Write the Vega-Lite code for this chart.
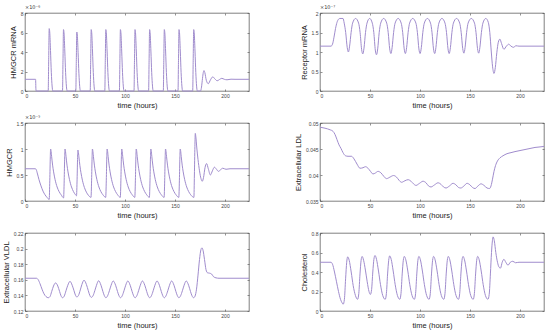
{
"$schema": "https://vega.github.io/schema/vega-lite/v6.json",
"background": "white",
"padding": {"left": 1, "top": 4, "right": 2, "bottom": 2},
"datasets": {
"mrna": [{"t":0,"v":1.2},{"t":10.6,"v":1.2},{"t":10.9,"v":0.2},{"t":11.2,"v":0},
{"t":23.2,"v":0},{"t":23.7,"v":3.2},{"t":24.2,"v":6.4},{"t":24.7,"v":6.08},{"t":25.5,"v":4.16},{"t":26.3,"v":1.92},{"t":27.1,"v":0.51},{"t":27.8,"v":0},
{"t":37.5,"v":0},{"t":38,"v":3.15},{"t":38.5,"v":6.3},{"t":39,"v":5.99},{"t":39.8,"v":4.1},{"t":40.6,"v":1.89},{"t":41.4,"v":0.5},{"t":42.1,"v":0},
{"t":50.8,"v":0},{"t":51.3,"v":3.03},{"t":51.8,"v":6.05},{"t":52.3,"v":5.75},{"t":53.1,"v":3.93},{"t":53.9,"v":1.82},{"t":54.7,"v":0.48},{"t":55.4,"v":0},
{"t":65.2,"v":0},{"t":65.7,"v":3.15},{"t":66.2,"v":6.3},{"t":66.7,"v":5.99},{"t":67.5,"v":4.1},{"t":68.3,"v":1.89},{"t":69.1,"v":0.5},{"t":69.8,"v":0},
{"t":79.8,"v":0},{"t":80.3,"v":3.15},{"t":80.8,"v":6.3},{"t":81.3,"v":5.99},{"t":82.1,"v":4.1},{"t":82.9,"v":1.89},{"t":83.7,"v":0.5},{"t":84.4,"v":0},
{"t":94.4,"v":0},{"t":94.9,"v":3.15},{"t":95.4,"v":6.3},{"t":95.9,"v":5.99},{"t":96.7,"v":4.1},{"t":97.5,"v":1.89},{"t":98.3,"v":0.5},{"t":99,"v":0},
{"t":109,"v":0},{"t":109.5,"v":3.15},{"t":110,"v":6.3},{"t":110.5,"v":5.99},{"t":111.3,"v":4.1},{"t":112.1,"v":1.89},{"t":112.9,"v":0.5},{"t":113.6,"v":0},
{"t":123.6,"v":0},{"t":124.1,"v":3.15},{"t":124.6,"v":6.3},{"t":125.1,"v":5.99},{"t":125.9,"v":4.1},{"t":126.7,"v":1.89},{"t":127.5,"v":0.5},{"t":128.2,"v":0},
{"t":138.3,"v":0},{"t":138.8,"v":3.15},{"t":139.3,"v":6.3},{"t":139.8,"v":5.99},{"t":140.6,"v":4.1},{"t":141.4,"v":1.89},{"t":142.2,"v":0.5},{"t":142.9,"v":0},
{"t":153,"v":0},{"t":153.5,"v":3.15},{"t":154,"v":6.3},{"t":154.5,"v":5.99},{"t":155.3,"v":4.1},{"t":156.1,"v":1.89},{"t":156.9,"v":0.5},{"t":157.6,"v":0},
{"t":167.7,"v":0},{"t":168.2,"v":3.15},{"t":168.7,"v":6.3},{"t":169.2,"v":5.99},{"t":170,"v":4.1},{"t":170.8,"v":1.89},{"t":171.6,"v":0.5},{"t":172.3,"v":0},
{"t":175.5,"v":0},{"t":176.5,"v":0.4},{"t":177.5,"v":1.3},{"t":178.3,"v":1.9},{"t":179,"v":2.1},{"t":179.8,"v":1.9},{"t":181.3,"v":1.1},{"t":183.3,"v":0.75},{"t":185.5,"v":1.15},{"t":187.8,"v":1.45},{"t":189.8,"v":1.25},{"t":192.2,"v":1.05},{"t":194.5,"v":1.18},{"t":196.8,"v":1.3},{"t":199.3,"v":1.2},{"t":202,"v":1.15},{"t":206,"v":1.21},{"t":210,"v":1.2},{"t":224,"v":1.2}],
"receptor": [{"t":0,"v":1.15},{"t":11,"v":1.15},{"t":12.5,"v":1.2},{"t":14,"v":1.38},{"t":15.5,"v":1.6},{"t":17,"v":1.76},{"t":18.5,"v":1.84},{"t":20,"v":1.86},{"t":23,"v":1.86},{"t":24.2,"v":1.74},{"t":25.7,"v":1.5},{"t":27.2,"v":1.12},{"t":28.4,"v":1.0},
{"t":29.6,"v":1.15},{"t":31.1,"v":1.5},{"t":32.6,"v":1.74},{"t":35.6,"v":1.86},{"t":38.6,"v":1.74},{"t":40.1,"v":1.5},{"t":41.6,"v":1.07},{"t":42.8,"v":0.95},
{"t":44,"v":1.1},{"t":45.5,"v":1.5},{"t":47,"v":1.74},{"t":49.65,"v":1.86},{"t":52.3,"v":1.74},{"t":53.8,"v":1.5},{"t":55.3,"v":1.05},{"t":56.5,"v":0.93},
{"t":57.7,"v":1.08},{"t":59.2,"v":1.5},{"t":60.7,"v":1.74},{"t":63.7,"v":1.86},{"t":66.7,"v":1.74},{"t":68.2,"v":1.5},{"t":69.7,"v":1.08},{"t":70.9,"v":0.96},
{"t":72.1,"v":1.11},{"t":73.6,"v":1.5},{"t":75.1,"v":1.74},{"t":78.15,"v":1.86},{"t":81.2,"v":1.74},{"t":82.7,"v":1.5},{"t":84.2,"v":1.08},{"t":85.4,"v":0.96},
{"t":86.6,"v":1.11},{"t":88.1,"v":1.5},{"t":89.6,"v":1.74},{"t":92.75,"v":1.86},{"t":95.9,"v":1.74},{"t":97.4,"v":1.5},{"t":98.9,"v":1.08},{"t":100.1,"v":0.96},
{"t":101.3,"v":1.11},{"t":102.8,"v":1.5},{"t":104.3,"v":1.74},{"t":107.4,"v":1.86},{"t":110.5,"v":1.74},{"t":112,"v":1.5},{"t":113.5,"v":1.08},{"t":114.7,"v":0.96},
{"t":115.9,"v":1.11},{"t":117.4,"v":1.5},{"t":118.9,"v":1.74},{"t":121.95,"v":1.86},{"t":125,"v":1.74},{"t":126.5,"v":1.5},{"t":128,"v":1.08},{"t":129.2,"v":0.96},
{"t":130.4,"v":1.11},{"t":131.9,"v":1.5},{"t":133.4,"v":1.74},{"t":136.55,"v":1.86},{"t":139.7,"v":1.74},{"t":141.2,"v":1.5},{"t":142.7,"v":1.09},{"t":143.9,"v":0.97},
{"t":145.1,"v":1.12},{"t":146.6,"v":1.5},{"t":148.1,"v":1.74},{"t":151.3,"v":1.86},{"t":154.5,"v":1.74},{"t":156,"v":1.5},{"t":157.5,"v":1.09},{"t":158.7,"v":0.97},
{"t":159.9,"v":1.12},{"t":161.4,"v":1.5},{"t":162.9,"v":1.74},{"t":165.8,"v":1.86},{"t":168.3,"v":1.76},{"t":169.8,"v":1.5},{"t":171.3,"v":1.0},{"t":172.6,"v":0.62},{"t":174,"v":0.45},{"t":175.3,"v":0.6},{"t":176.8,"v":0.98},{"t":178.3,"v":1.25},{"t":179.9,"v":1.33},{"t":181.5,"v":1.22},{"t":183.9,"v":1.07},{"t":186.4,"v":1.15},{"t":188.7,"v":1.2},{"t":191,"v":1.15},{"t":193.4,"v":1.12},{"t":196,"v":1.16},{"t":199,"v":1.15},{"t":224,"v":1.15}],
"hmgcr": [{"t":0,"v":0.62},{"t":10.5,"v":0.62},{"t":11.3,"v":0.6},{"t":12.5,"v":0.52},{"t":14,"v":0.41},{"t":16,"v":0.29},{"t":18,"v":0.19},{"t":20,"v":0.12},{"t":22,"v":0.07},{"t":24.2,"v":0.03},{"t":24.8,"v":0.4},{"t":25.3,"v":0.85},{"t":25.6,"v":1.0},
{"t":26,"v":0.97},{"t":26.6,"v":0.86},{"t":27.6,"v":0.69},{"t":28.6,"v":0.56},{"t":30.1,"v":0.41},{"t":32.1,"v":0.27},{"t":34.1,"v":0.18},{"t":36.1,"v":0.12},{"t":38.6,"v":0.06},{"t":39.2,"v":0.4},{"t":39.7,"v":0.85},{"t":40.0,"v":1.0},
{"t":40.4,"v":0.97},{"t":41,"v":0.86},{"t":42,"v":0.69},{"t":43,"v":0.56},{"t":44.5,"v":0.41},{"t":46.5,"v":0.27},{"t":48.5,"v":0.18},{"t":50.5,"v":0.12},{"t":51.5,"v":0.1},{"t":52.1,"v":0.42},{"t":52.6,"v":0.84},{"t":52.9,"v":0.98},
{"t":53.3,"v":0.95},{"t":53.9,"v":0.85},{"t":54.9,"v":0.68},{"t":55.9,"v":0.55},{"t":57.4,"v":0.4},{"t":59.4,"v":0.26},{"t":61.4,"v":0.17},{"t":63.4,"v":0.11},{"t":66,"v":0.07},{"t":66.6,"v":0.4},{"t":67.1,"v":0.85},{"t":67.4,"v":1.0},
{"t":67.8,"v":0.97},{"t":68.4,"v":0.86},{"t":69.4,"v":0.69},{"t":70.4,"v":0.56},{"t":71.9,"v":0.41},{"t":73.9,"v":0.27},{"t":75.9,"v":0.18},{"t":77.9,"v":0.12},{"t":80.7,"v":0.07},{"t":81.3,"v":0.4},{"t":81.8,"v":0.85},{"t":82.1,"v":1.0},
{"t":82.5,"v":0.97},{"t":83.1,"v":0.86},{"t":84.1,"v":0.69},{"t":85.1,"v":0.56},{"t":86.6,"v":0.41},{"t":88.6,"v":0.27},{"t":90.6,"v":0.18},{"t":92.6,"v":0.12},{"t":95.3,"v":0.07},{"t":95.9,"v":0.4},{"t":96.4,"v":0.85},{"t":96.7,"v":1.0},
{"t":97.1,"v":0.97},{"t":97.7,"v":0.86},{"t":98.7,"v":0.69},{"t":99.7,"v":0.56},{"t":101.2,"v":0.41},{"t":103.2,"v":0.27},{"t":105.2,"v":0.18},{"t":107.2,"v":0.12},{"t":109.8,"v":0.07},{"t":110.4,"v":0.4},{"t":110.9,"v":0.85},{"t":111.2,"v":1.0},
{"t":111.6,"v":0.97},{"t":112.2,"v":0.86},{"t":113.2,"v":0.69},{"t":114.2,"v":0.56},{"t":115.7,"v":0.41},{"t":117.7,"v":0.27},{"t":119.7,"v":0.18},{"t":121.7,"v":0.12},{"t":124.4,"v":0.07},{"t":125,"v":0.4},{"t":125.5,"v":0.85},{"t":125.8,"v":1.0},
{"t":126.2,"v":0.97},{"t":126.8,"v":0.86},{"t":127.8,"v":0.69},{"t":128.8,"v":0.56},{"t":130.3,"v":0.41},{"t":132.3,"v":0.27},{"t":134.3,"v":0.18},{"t":136.3,"v":0.12},{"t":139.1,"v":0.07},{"t":139.7,"v":0.4},{"t":140.2,"v":0.85},{"t":140.5,"v":1.0},
{"t":140.9,"v":0.97},{"t":141.5,"v":0.86},{"t":142.5,"v":0.69},{"t":143.5,"v":0.56},{"t":145,"v":0.41},{"t":147,"v":0.27},{"t":149,"v":0.18},{"t":151,"v":0.12},{"t":153.8,"v":0.07},{"t":154.4,"v":0.4},{"t":154.9,"v":0.85},{"t":155.2,"v":1.0},
{"t":155.6,"v":0.97},{"t":156.2,"v":0.86},{"t":157.2,"v":0.69},{"t":158.2,"v":0.56},{"t":159.7,"v":0.41},{"t":161.7,"v":0.27},{"t":163.7,"v":0.18},{"t":165.7,"v":0.12},{"t":168.9,"v":0.07},{"t":169.4,"v":0.5},{"t":169.9,"v":1.05},{"t":170.3,"v":1.3},
{"t":170.8,"v":1.24},{"t":171.8,"v":1.02},{"t":173,"v":0.8},{"t":174.5,"v":0.58},{"t":176,"v":0.43},{"t":177.3,"v":0.38},{"t":178.5,"v":0.45},{"t":180,"v":0.64},{"t":181.6,"v":0.72},{"t":183.3,"v":0.62},{"t":185.4,"v":0.5},{"t":187.4,"v":0.58},{"t":189.4,"v":0.65},{"t":191.5,"v":0.61},{"t":193.4,"v":0.57},{"t":195.5,"v":0.6},{"t":197.8,"v":0.63},{"t":201,"v":0.61},{"t":205,"v":0.62},{"t":224,"v":0.62}],
"ldl": [{"t":0,"v":0.0492},{"t":5,"v":0.049},{"t":10,"v":0.0487},{"t":13,"v":0.0484},{"t":15,"v":0.0478},{"t":17,"v":0.0468},{"t":19,"v":0.0458},{"t":21,"v":0.0451},{"t":23,"v":0.0443},{"t":25.5,"v":0.0437},{"t":28,"v":0.0436},{"t":31.5,"v":0.0436},{"t":34,"v":0.0431},{"t":37,"v":0.0421},{"t":40,"v":0.0413},{"t":43,"v":0.0414},{"t":45.5,"v":0.0416},{"t":48,"v":0.0413},{"t":50.5,"v":0.0407},{"t":53,"v":0.0402},{"t":55.5,"v":0.0404},{"t":58,"v":0.0407},{"t":61,"v":0.0404},{"t":64,"v":0.0397},{"t":66.5,"v":0.0393},{"t":70,"v":0.0396},{"t":73.5,"v":0.0399},{"t":76.5,"v":0.0396},{"t":79,"v":0.039},{"t":81.5,"v":0.0386},{"t":85,"v":0.0389},{"t":88,"v":0.0391},{"t":91,"v":0.0388},{"t":93.5,"v":0.0383},{"t":96,"v":0.038},{"t":99.5,"v":0.0384},{"t":103,"v":0.0388},{"t":106,"v":0.0385},{"t":108.5,"v":0.0379},{"t":111,"v":0.0377},{"t":114.5,"v":0.0381},{"t":118,"v":0.0385},{"t":121,"v":0.0382},{"t":123.5,"v":0.0377},{"t":126,"v":0.0375},{"t":129.5,"v":0.0379},{"t":133,"v":0.0384},{"t":136,"v":0.0381},{"t":138.5,"v":0.0376},{"t":140.8,"v":0.0375},{"t":144,"v":0.0379},{"t":147,"v":0.0384},{"t":150,"v":0.0381},{"t":152.5,"v":0.0376},{"t":155,"v":0.0374},{"t":158,"v":0.0379},{"t":161,"v":0.0383},{"t":164,"v":0.038},{"t":167,"v":0.0375},{"t":169.5,"v":0.0374},{"t":171,"v":0.0379},{"t":172.5,"v":0.0392},{"t":174,"v":0.0407},{"t":175.5,"v":0.0418},{"t":177.5,"v":0.0427},{"t":180,"v":0.0433},{"t":183,"v":0.0437},{"t":187,"v":0.0441},{"t":191,"v":0.0443},{"t":195,"v":0.0445},{"t":200,"v":0.0447},{"t":205,"v":0.0449},{"t":210,"v":0.0451},{"t":215,"v":0.0453},{"t":220,"v":0.0454},{"t":224,"v":0.0455}],
"vldl": [{"t":0,"v":0.162},{"t":11.5,"v":0.162},{"t":13,"v":0.1605},{"t":15,"v":0.155},{"t":17,"v":0.148},{"t":19,"v":0.142},{"t":21,"v":0.1385},{"t":23.3,"v":0.137},
{"t":25,"v":0.1385},{"t":26.7,"v":0.145},{"t":28.5,"v":0.152},{"t":30.6,"v":0.156},{"t":32.8,"v":0.152},{"t":34.6,"v":0.145},{"t":36,"v":0.1395},{"t":37.5,"v":0.137},
{"t":39.2,"v":0.139},{"t":41,"v":0.146},{"t":42.8,"v":0.153},{"t":45,"v":0.158},{"t":47.2,"v":0.153},{"t":49,"v":0.146},{"t":50.4,"v":0.1405},{"t":51.8,"v":0.138},
{"t":53.5,"v":0.14},{"t":55.3,"v":0.147},{"t":56.9,"v":0.154},{"t":59,"v":0.1595},{"t":61.4,"v":0.154},{"t":63.3,"v":0.146},{"t":64.8,"v":0.14},{"t":66.3,"v":0.1375},
{"t":68,"v":0.1395},{"t":69.8,"v":0.146},{"t":71.5,"v":0.153},{"t":73.6,"v":0.1588},{"t":76,"v":0.153},{"t":77.9,"v":0.145},{"t":79.4,"v":0.1395},{"t":80.9,"v":0.137},
{"t":82.6,"v":0.1395},{"t":84.4,"v":0.146},{"t":86.1,"v":0.153},{"t":88.2,"v":0.1585},{"t":90.6,"v":0.153},{"t":92.5,"v":0.145},{"t":94,"v":0.1395},{"t":95.5,"v":0.137},
{"t":97.2,"v":0.1395},{"t":99,"v":0.146},{"t":100.7,"v":0.153},{"t":102.8,"v":0.1585},{"t":105.2,"v":0.153},{"t":107.1,"v":0.145},{"t":108.6,"v":0.1395},{"t":110.1,"v":0.137},
{"t":111.8,"v":0.1395},{"t":113.6,"v":0.146},{"t":115.3,"v":0.153},{"t":117.4,"v":0.1585},{"t":119.8,"v":0.153},{"t":121.7,"v":0.145},{"t":123.2,"v":0.1395},{"t":124.7,"v":0.137},
{"t":126.4,"v":0.1395},{"t":128.2,"v":0.146},{"t":129.9,"v":0.153},{"t":132,"v":0.1585},{"t":134.4,"v":0.153},{"t":136.3,"v":0.145},{"t":137.8,"v":0.1395},{"t":139.3,"v":0.137},
{"t":141,"v":0.1395},{"t":142.8,"v":0.146},{"t":144.5,"v":0.153},{"t":146.6,"v":0.1585},{"t":149,"v":0.153},{"t":150.9,"v":0.145},{"t":152.4,"v":0.1395},{"t":153.9,"v":0.137},
{"t":155.6,"v":0.1395},{"t":157.4,"v":0.146},{"t":159.1,"v":0.153},{"t":161.2,"v":0.1585},{"t":163.6,"v":0.153},{"t":165.5,"v":0.145},{"t":167,"v":0.1395},{"t":168.6,"v":0.137},
{"t":170,"v":0.139},{"t":171.5,"v":0.148},{"t":173,"v":0.166},{"t":174.5,"v":0.186},{"t":176,"v":0.199},{"t":177,"v":0.201},{"t":178,"v":0.198},{"t":179.5,"v":0.186},{"t":181,"v":0.173},{"t":182.5,"v":0.169},{"t":184.5,"v":0.1685},{"t":186.5,"v":0.1675},{"t":188.5,"v":0.164},{"t":191,"v":0.1625},{"t":194,"v":0.162},{"t":224,"v":0.162}],
"chol": [{"t":0,"v":0.5},{"t":11,"v":0.5},{"t":12.5,"v":0.48},{"t":14.5,"v":0.4},{"t":16.5,"v":0.3},{"t":18.5,"v":0.2},{"t":20.5,"v":0.12},{"t":22,"v":0.085},{"t":23.2,"v":0.07},
{"t":24.4,"v":0.12},{"t":25.6,"v":0.33},{"t":26.7,"v":0.5},{"t":27.7,"v":0.555},{"t":29.2,"v":0.52},{"t":31.2,"v":0.4},{"t":33.2,"v":0.26},{"t":35.4,"v":0.16},{"t":37.6,"v":0.12},
{"t":38.8,"v":0.18},{"t":40,"v":0.38},{"t":41.1,"v":0.52},{"t":42.1,"v":0.56},{"t":43.6,"v":0.52},{"t":45.4,"v":0.42},{"t":47.2,"v":0.3},{"t":49,"v":0.2},{"t":50.4,"v":0.17},
{"t":51.6,"v":0.22},{"t":52.8,"v":0.4},{"t":53.9,"v":0.53},{"t":55,"v":0.57},{"t":56.5,"v":0.53},{"t":58.5,"v":0.41},{"t":60.5,"v":0.27},{"t":62.7,"v":0.16},{"t":65.2,"v":0.12},
{"t":66.4,"v":0.18},{"t":67.6,"v":0.38},{"t":68.7,"v":0.52},{"t":69.7,"v":0.565},{"t":71.2,"v":0.53},{"t":73.2,"v":0.41},{"t":75.2,"v":0.27},{"t":77.4,"v":0.16},{"t":79.8,"v":0.12},
{"t":81,"v":0.18},{"t":82.2,"v":0.38},{"t":83.3,"v":0.52},{"t":84.3,"v":0.56},{"t":85.8,"v":0.525},{"t":87.8,"v":0.41},{"t":89.8,"v":0.27},{"t":92,"v":0.16},{"t":94.4,"v":0.12},
{"t":95.6,"v":0.18},{"t":96.8,"v":0.38},{"t":97.9,"v":0.52},{"t":98.9,"v":0.56},{"t":100.4,"v":0.525},{"t":102.4,"v":0.41},{"t":104.4,"v":0.27},{"t":106.6,"v":0.16},{"t":109.1,"v":0.12},
{"t":110.3,"v":0.18},{"t":111.5,"v":0.38},{"t":112.6,"v":0.52},{"t":113.6,"v":0.56},{"t":115.1,"v":0.525},{"t":117.1,"v":0.41},{"t":119.1,"v":0.27},{"t":121.3,"v":0.16},{"t":123.8,"v":0.12},
{"t":125,"v":0.18},{"t":126.2,"v":0.38},{"t":127.3,"v":0.52},{"t":128.3,"v":0.56},{"t":129.8,"v":0.525},{"t":131.8,"v":0.41},{"t":133.8,"v":0.27},{"t":136,"v":0.16},{"t":138.5,"v":0.12},
{"t":139.7,"v":0.18},{"t":140.9,"v":0.38},{"t":142,"v":0.52},{"t":143,"v":0.56},{"t":144.5,"v":0.525},{"t":146.5,"v":0.41},{"t":148.5,"v":0.27},{"t":150.7,"v":0.16},{"t":153.2,"v":0.12},
{"t":154.4,"v":0.18},{"t":155.6,"v":0.38},{"t":156.7,"v":0.52},{"t":157.7,"v":0.56},{"t":159.2,"v":0.525},{"t":161.2,"v":0.41},{"t":163.2,"v":0.27},{"t":165.4,"v":0.16},{"t":167.9,"v":0.12},
{"t":169.2,"v":0.17},{"t":170.4,"v":0.38},{"t":171.5,"v":0.6},{"t":172.4,"v":0.72},{"t":173.1,"v":0.76},{"t":174.3,"v":0.72},{"t":175.8,"v":0.6},{"t":177.5,"v":0.5},{"t":179,"v":0.45},{"t":180.5,"v":0.44},{"t":182.2,"v":0.5},{"t":183.9,"v":0.53},{"t":185.8,"v":0.5},{"t":188,"v":0.47},{"t":190.3,"v":0.5},{"t":192.8,"v":0.51},{"t":195.5,"v":0.495},{"t":199,"v":0.5},{"t":224,"v":0.5}]
},
"columns": 2,
"spacing": {"row": 32, "column": 71},
"bounds": "flush",
"concat": [
{"width": 224, "height": 78, "title": {"text": "×10⁻⁶"},
 "layer": [
  {"data": {"name": "mrna"}, "mark": {"type": "line", "interpolate": "monotone", "color": "#a08ccd", "strokeWidth": 1},
   "encoding": {"x": {"field": "t", "type": "quantitative", "scale": {"domain": [0, 224], "nice": false}, "axis": {"orient": "bottom", "values": [0, 50, 100, 150, 200], "title": "time (hours)"}},
                "y": {"field": "v", "type": "quantitative", "scale": {"domain": [0, 8], "nice": false}, "axis": {"orient": "left", "values": [0, 2, 4, 6, 8], "title": "HMGCR mRNA"}}}},
  {"data": {"values": [{}]}, "mark": {"type": "point", "opacity": 0},
   "encoding": {"x": {"datum": 0, "type": "quantitative", "axis": {"orient": "top", "values": [0, 50, 100, 150, 200], "labels": false, "title": null}},
                "y": {"datum": 0, "type": "quantitative", "axis": {"orient": "right", "values": [0, 2, 4, 6, 8], "labels": false, "title": null}}}}
 ]},
{"width": 224, "height": 78, "title": {"text": "×10⁻⁷"},
 "layer": [
  {"data": {"name": "receptor"}, "mark": {"type": "line", "interpolate": "monotone", "color": "#a08ccd", "strokeWidth": 1},
   "encoding": {"x": {"field": "t", "type": "quantitative", "scale": {"domain": [0, 224], "nice": false}, "axis": {"orient": "bottom", "values": [0, 50, 100, 150, 200], "title": "time (hours)"}},
                "y": {"field": "v", "type": "quantitative", "scale": {"domain": [0, 2], "nice": false}, "axis": {"orient": "left", "values": [0, 0.5, 1, 1.5, 2], "title": "Receptor mRNA"}}}},
  {"data": {"values": [{}]}, "mark": {"type": "point", "opacity": 0},
   "encoding": {"x": {"datum": 0, "type": "quantitative", "axis": {"orient": "top", "values": [0, 50, 100, 150, 200], "labels": false, "title": null}},
                "y": {"datum": 0, "type": "quantitative", "axis": {"orient": "right", "values": [0, 0.5, 1, 1.5, 2], "labels": false, "title": null}}}}
 ]},
{"width": 224, "height": 78, "title": {"text": "×10⁻⁵"},
 "layer": [
  {"data": {"name": "hmgcr"}, "mark": {"type": "line", "interpolate": "monotone", "color": "#a08ccd", "strokeWidth": 1},
   "encoding": {"x": {"field": "t", "type": "quantitative", "scale": {"domain": [0, 224], "nice": false}, "axis": {"orient": "bottom", "values": [0, 50, 100, 150, 200], "title": "time (hours)"}},
                "y": {"field": "v", "type": "quantitative", "scale": {"domain": [0, 1.5], "nice": false}, "axis": {"orient": "left", "values": [0, 0.5, 1, 1.5], "title": "HMGCR"}}}},
  {"data": {"values": [{}]}, "mark": {"type": "point", "opacity": 0},
   "encoding": {"x": {"datum": 0, "type": "quantitative", "axis": {"orient": "top", "values": [0, 50, 100, 150, 200], "labels": false, "title": null}},
                "y": {"datum": 0, "type": "quantitative", "axis": {"orient": "right", "values": [0, 0.5, 1, 1.5], "labels": false, "title": null}}}}
 ]},
{"width": 224, "height": 78,
 "layer": [
  {"data": {"name": "ldl"}, "mark": {"type": "line", "interpolate": "monotone", "color": "#a08ccd", "strokeWidth": 1},
   "encoding": {"x": {"field": "t", "type": "quantitative", "scale": {"domain": [0, 224], "nice": false}, "axis": {"orient": "bottom", "values": [0, 50, 100, 150, 200], "title": "time (hours)"}},
                "y": {"field": "v", "type": "quantitative", "scale": {"domain": [0.035, 0.05], "nice": false, "zero": false}, "axis": {"orient": "left", "values": [0.035, 0.04, 0.045, 0.05], "title": "Extracellular LDL"}}}},
  {"data": {"values": [{}]}, "mark": {"type": "point", "opacity": 0},
   "encoding": {"x": {"datum": 0, "type": "quantitative", "axis": {"orient": "top", "values": [0, 50, 100, 150, 200], "labels": false, "title": null}},
                "y": {"datum": 0.04, "type": "quantitative", "axis": {"orient": "right", "values": [0.035, 0.04, 0.045, 0.05], "labels": false, "title": null}}}}
 ]},
{"width": 224, "height": 78,
 "layer": [
  {"data": {"name": "vldl"}, "mark": {"type": "line", "interpolate": "monotone", "color": "#a08ccd", "strokeWidth": 1},
   "encoding": {"x": {"field": "t", "type": "quantitative", "scale": {"domain": [0, 224], "nice": false}, "axis": {"orient": "bottom", "values": [0, 50, 100, 150, 200], "title": "time (hours)"}},
                "y": {"field": "v", "type": "quantitative", "scale": {"domain": [0.12, 0.22], "nice": false, "zero": false}, "axis": {"orient": "left", "values": [0.12, 0.14, 0.16, 0.18, 0.2, 0.22], "title": "Extracellular VLDL"}}}},
  {"data": {"values": [{}]}, "mark": {"type": "point", "opacity": 0},
   "encoding": {"x": {"datum": 0, "type": "quantitative", "axis": {"orient": "top", "values": [0, 50, 100, 150, 200], "labels": false, "title": null}},
                "y": {"datum": 0.16, "type": "quantitative", "axis": {"orient": "right", "values": [0.12, 0.14, 0.16, 0.18, 0.2, 0.22], "labels": false, "title": null}}}}
 ]},
{"width": 224, "height": 78,
 "layer": [
  {"data": {"name": "chol"}, "mark": {"type": "line", "interpolate": "monotone", "color": "#a08ccd", "strokeWidth": 1},
   "encoding": {"x": {"field": "t", "type": "quantitative", "scale": {"domain": [0, 224], "nice": false}, "axis": {"orient": "bottom", "values": [0, 50, 100, 150, 200], "title": "time (hours)"}},
                "y": {"field": "v", "type": "quantitative", "scale": {"domain": [0, 0.8], "nice": false}, "axis": {"orient": "left", "values": [0, 0.2, 0.4, 0.6, 0.8], "title": "Cholesterol"}}}},
  {"data": {"values": [{}]}, "mark": {"type": "point", "opacity": 0},
   "encoding": {"x": {"datum": 0, "type": "quantitative", "axis": {"orient": "top", "values": [0, 50, 100, 150, 200], "labels": false, "title": null}},
                "y": {"datum": 0, "type": "quantitative", "axis": {"orient": "right", "values": [0, 0.2, 0.4, 0.6, 0.8], "labels": false, "title": null}}}}
 ]}
],
"config": {
 "font": "Liberation Sans",
 "view": {"stroke": "#4a4a4a", "strokeWidth": 0.7},
 "title": {"anchor": "start", "frame": "group", "fontSize": 5, "fontWeight": "normal", "color": "#333333", "offset": 1, "font": "DejaVu Sans"},
 "axis": {"format": "~r", "grid": false, "domain": false, "labelFont": "Liberation Sans", "titleFont": "Liberation Sans", "labelFontSize": 5, "titleFontSize": 7.5, "titleFontWeight": "normal", "labelColor": "#444444", "titleColor": "#222222", "tickColor": "#4a4a4a", "tickWidth": 0.6, "tickSize": -2, "labelPadding": 4, "titlePadding": 3}
}
}
